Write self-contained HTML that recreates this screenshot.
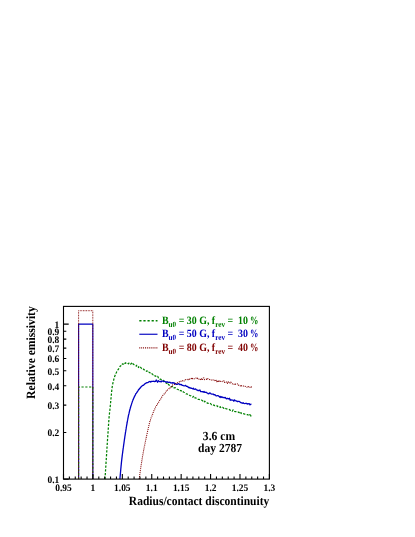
<!DOCTYPE html><html><head><meta charset="utf-8"><style>html,body{margin:0;padding:0;background:#fff}svg{display:block}</style></head><body>
<svg width="415" height="537" viewBox="0 0 415 537" font-family="'Liberation Serif', serif" font-weight="bold" text-rendering="geometricPrecision">
<defs><filter id="gaa" x="0" y="0" width="415" height="537" filterUnits="userSpaceOnUse" color-interpolation-filters="sRGB"><feOffset dx="0" dy="0"/></filter></defs>
<rect width="415" height="537" fill="#fff"/>
<g fill="none" stroke-linejoin="round">
<path d="M78.60 479.10 V324.10 H92.80 V479.10" stroke="#0000c0" stroke-width="1.15"/>
<path d="M78.60 479.10 V386.97 H92.80 V479.10" stroke="#008000" stroke-width="1.15" stroke-dasharray="2.2 1.6"/>
<path d="M78.60 479.10 V310.71 H92.80 V479.10" stroke="#800000" stroke-width="1" stroke-dasharray="0.8 0.8"/>
<path d="M105.00 479.10 L105.03 478.72 L105.06 478.20 L105.09 477.61 L105.13 476.97 L105.18 476.31 L105.22 475.55 L105.27 474.76 L105.32 473.99 L105.38 473.16 L105.43 472.32 L105.49 471.42 L105.54 470.58 L105.59 469.72 L105.65 468.83 L105.70 468.06 L105.75 467.26 L105.80 466.56 L105.85 465.77 L105.89 465.03 L105.94 464.33 L105.99 463.58 L106.04 462.87 L106.08 462.11 L106.13 461.40 L106.18 460.69 L106.22 459.95 L106.27 459.21 L106.32 458.46 L106.36 457.77 L106.41 457.03 L106.46 456.32 L106.51 455.57 L106.55 454.86 L106.60 454.10 L106.65 453.37 L106.69 452.64 L106.74 451.85 L106.79 451.12 L106.84 450.36 L106.88 449.67 L106.93 448.87 L106.98 448.14 L107.02 447.38 L107.07 446.61 L107.12 445.83 L107.16 445.16 L107.21 444.38 L107.26 443.68 L107.31 442.90 L107.35 442.20 L107.40 441.53 L107.45 440.79 L107.50 439.98 L107.55 439.26 L107.60 438.57 L107.65 437.89 L107.70 437.16 L107.74 436.47 L107.79 435.73 L107.84 435.07 L107.89 434.38 L107.94 433.63 L107.99 432.89 L108.04 432.19 L108.10 431.51 L108.15 430.70 L108.20 430.00 L108.25 429.26 L108.30 428.55 L108.35 427.81 L108.40 427.07 L108.45 426.36 L108.50 425.57 L108.55 424.83 L108.60 424.03 L108.65 423.25 L108.70 422.51 L108.76 421.66 L108.81 420.98 L108.87 420.24 L108.92 419.45 L108.98 418.76 L109.04 418.00 L109.10 417.21 L109.17 416.55 L109.23 415.81 L109.30 415.14 L109.36 414.49 L109.43 413.89 L109.50 413.19 L109.57 412.54 L109.64 411.90 L109.72 411.14 L109.79 410.60 L109.87 409.79 L109.95 409.13 L110.03 408.30 L110.12 407.50 L110.21 406.68 L110.30 405.88 L110.36 405.22 L110.42 404.52 L110.49 403.86 L110.55 403.13 L110.62 402.45 L110.69 401.68 L110.76 400.97 L110.83 400.11 L110.90 399.36 L110.98 398.54 L111.05 397.74 L111.13 396.99 L111.20 396.17 L111.28 395.38 L111.35 394.61 L111.43 393.83 L111.50 392.96 L111.58 392.28 L111.65 391.45 L111.73 390.81 L111.81 390.21 L111.88 389.46 L111.95 388.82 L112.03 388.26 L112.10 387.70 L112.25 386.65 L112.40 385.64 L112.55 384.90 L112.70 384.10 L112.85 383.29 L113.00 382.67 L113.15 382.08 L113.30 381.54 L113.45 380.91 L113.60 380.39 L113.75 379.73 L113.90 379.09 L114.11 378.35 L114.31 377.81 L114.49 377.18 L114.68 376.49 L114.89 375.82 L115.12 375.36 L115.38 374.96 L115.70 374.23 L115.99 373.27 L116.32 372.73 L116.67 371.78 L117.05 371.14 L117.44 370.69 L117.84 369.96 L118.24 369.48 L118.64 368.91 L119.03 368.22 L119.40 367.81 L119.92 366.67 L120.44 365.88 L120.97 365.75 L121.48 365.88 L122.00 364.76 L122.50 363.88 L123.00 363.98 L123.65 364.03 L124.25 362.88 L124.86 363.44 L125.52 362.80 L126.30 363.51 L126.95 363.31 L127.66 363.14 L128.42 363.87 L129.20 362.99 L129.99 363.00 L130.76 364.14 L131.50 363.26 L132.11 364.62 L132.70 364.01 L133.27 363.90 L133.84 364.56 L134.42 364.90 L135.02 365.23 L135.64 365.41 L136.30 366.19 L136.85 365.21 L137.41 366.11 L137.98 366.48 L138.56 367.50 L139.16 366.40 L139.77 367.28 L140.40 367.29 L141.04 367.78 L141.71 368.58 L142.40 368.85 L142.98 369.51 L143.56 369.09 L144.15 369.70 L144.74 370.33 L145.34 370.56 L145.96 370.46 L146.61 371.32 L147.27 370.97 L147.97 372.31 L148.71 372.15 L149.48 372.49 L150.30 373.09 L150.82 373.59 L151.37 374.22 L151.95 373.91 L152.56 374.18 L153.18 374.87 L153.82 374.74 L154.47 374.84 L155.14 376.10 L155.81 376.08 L156.48 376.99 L157.15 376.65 L157.82 376.41 L158.48 377.89 L159.13 378.24 L159.77 379.11 L160.38 379.12 L160.98 379.41 L161.55 379.85 L162.09 379.86 L162.60 380.33 L163.38 380.34 L164.09 381.44 L164.74 381.45 L165.35 382.00 L165.92 382.78 L166.47 383.25 L167.01 383.02 L167.55 384.39 L168.11 383.92 L168.70 384.79 L169.32 385.22 L170.00 385.38 L170.57 385.68 L171.13 386.56 L171.70 386.55 L172.27 386.69 L172.86 386.17 L173.45 386.85 L174.05 387.83 L174.67 387.78 L175.30 387.67 L175.96 388.10 L176.63 388.54 L177.33 389.24 L178.06 389.48 L178.81 390.07 L179.60 389.81 L180.16 390.73 L180.74 390.49 L181.35 390.87 L181.97 391.91 L182.61 391.65 L183.27 391.90 L183.94 392.22 L184.62 392.50 L185.31 393.54 L186.00 393.83 L186.70 393.95 L187.40 394.11 L188.10 394.77 L188.81 394.72 L189.50 395.26 L190.19 395.58 L190.88 395.80 L191.55 396.69 L192.21 397.05 L192.86 397.20 L193.49 396.32 L194.10 397.97 L194.83 397.89 L195.54 397.78 L196.24 398.25 L196.93 398.98 L197.61 399.28 L198.28 399.45 L198.94 399.46 L199.60 399.69 L200.25 400.25 L200.90 400.16 L201.54 400.12 L202.19 400.47 L202.83 400.90 L203.47 401.33 L204.12 402.30 L204.78 401.19 L205.43 402.13 L206.10 402.17 L206.77 402.56 L207.44 403.21 L208.11 403.42 L208.78 403.14 L209.46 403.23 L210.13 403.17 L210.80 403.89 L211.48 404.63 L212.15 404.29 L212.82 404.89 L213.50 405.13 L214.17 405.24 L214.84 405.72 L215.52 405.49 L216.19 405.44 L216.86 405.53 L217.53 406.54 L218.20 406.26 L218.91 406.50 L219.62 407.16 L220.32 406.74 L221.03 407.93 L221.73 407.71 L222.44 407.45 L223.14 407.60 L223.85 408.46 L224.55 407.78 L225.26 408.18 L225.96 408.62 L226.67 408.89 L227.37 409.01 L228.08 409.35 L228.78 409.26 L229.49 409.55 L230.20 410.29 L230.91 410.26 L231.63 410.05 L232.36 411.09 L233.09 409.89 L233.83 410.91 L234.56 411.36 L235.30 411.70 L236.03 411.59 L236.76 411.62 L237.49 412.21 L238.21 412.13 L238.92 412.60 L239.62 411.53 L240.31 412.97 L240.99 412.72 L241.65 413.58 L242.30 413.69 L243.09 413.90 L243.89 413.68 L244.70 414.22 L245.50 414.13 L246.31 414.56 L247.09 414.63 L247.86 414.54 L248.59 415.83 L249.28 415.52 L249.93 414.60 L250.52 415.90 L251.05 415.14 L251.52 415.71 L251.90 415.90" stroke="#008000" stroke-width="1.25" stroke-dasharray="2.3 1.5"/>
<path d="M119.90 479.10 L119.94 478.68 L119.98 478.27 L120.02 477.77 L120.07 477.24 L120.12 476.57 L120.18 475.98 L120.24 475.30 L120.30 474.59 L120.37 473.86 L120.43 473.12 L120.50 472.34 L120.58 471.52 L120.65 470.75 L120.73 469.88 L120.80 468.94 L120.88 468.25 L120.96 467.34 L121.04 466.47 L121.12 465.66 L121.21 464.82 L121.29 463.98 L121.37 463.13 L121.45 462.37 L121.54 461.52 L121.62 460.89 L121.70 460.04 L121.79 459.35 L121.87 458.60 L121.96 457.86 L122.06 457.08 L122.15 456.35 L122.25 455.38 L122.35 454.78 L122.44 454.01 L122.54 453.24 L122.65 452.58 L122.75 451.68 L122.85 450.98 L122.95 450.12 L123.05 449.50 L123.15 448.66 L123.26 447.93 L123.36 447.43 L123.45 446.63 L123.55 445.89 L123.65 445.22 L123.74 444.45 L123.84 443.82 L123.93 443.26 L124.01 442.48 L124.10 442.01 L124.22 441.02 L124.34 440.27 L124.46 439.37 L124.58 438.73 L124.70 437.89 L124.81 437.03 L124.92 436.20 L125.03 435.54 L125.14 434.88 L125.25 434.14 L125.35 433.56 L125.45 432.96 L125.54 432.27 L125.64 431.65 L125.73 431.14 L125.82 430.51 L125.90 430.04 L126.04 429.07 L126.16 428.44 L126.26 427.69 L126.34 427.08 L126.43 426.63 L126.52 426.04 L126.63 425.43 L126.75 424.80 L126.90 424.05 L127.01 423.23 L127.12 422.75 L127.24 422.07 L127.37 421.37 L127.50 420.71 L127.63 419.81 L127.77 419.20 L127.92 418.36 L128.07 417.60 L128.23 416.78 L128.39 415.99 L128.55 415.19 L128.72 414.49 L128.90 413.88 L129.06 413.12 L129.22 412.42 L129.39 411.70 L129.56 410.90 L129.74 410.30 L129.92 409.75 L130.11 408.69 L130.29 408.21 L130.49 407.53 L130.68 406.75 L130.88 406.12 L131.08 405.51 L131.28 404.95 L131.48 404.20 L131.69 403.62 L131.90 402.83 L132.16 402.17 L132.42 401.37 L132.68 400.69 L132.95 399.90 L133.22 399.40 L133.50 398.88 L133.78 397.98 L134.06 397.43 L134.36 396.88 L134.66 396.16 L134.96 395.74 L135.28 395.02 L135.60 394.16 L135.99 393.49 L136.40 393.19 L136.83 392.51 L137.26 391.97 L137.70 391.14 L138.15 390.51 L138.60 389.47 L139.05 389.63 L139.51 388.48 L139.96 388.47 L140.40 387.38 L140.94 386.93 L141.48 386.63 L142.03 385.95 L142.58 385.40 L143.12 385.47 L143.67 385.00 L144.22 384.52 L144.76 383.92 L145.30 383.41 L145.98 383.12 L146.64 382.74 L147.30 382.61 L147.96 382.63 L148.64 382.04 L149.35 381.58 L150.10 381.45 L150.71 382.06 L151.35 381.51 L152.00 381.44 L152.66 381.38 L153.34 381.45 L154.04 381.22 L154.75 381.60 L155.47 381.43 L156.20 379.96 L156.88 381.04 L157.58 382.30 L158.30 380.64 L159.03 381.25 L159.78 381.69 L160.52 381.32 L161.26 381.92 L161.99 380.95 L162.70 381.03 L163.40 381.52 L164.14 381.38 L164.83 381.32 L165.50 382.06 L166.16 382.02 L166.83 382.01 L167.52 381.95 L168.25 382.33 L169.04 382.31 L169.90 382.21 L170.48 382.80 L171.08 382.84 L171.68 382.83 L172.30 383.17 L172.93 382.56 L173.58 383.05 L174.25 383.02 L174.94 383.88 L175.65 383.69 L176.39 384.47 L177.15 384.42 L177.93 383.84 L178.75 383.76 L179.60 384.59 L180.19 384.45 L180.80 384.67 L181.44 384.51 L182.10 385.34 L182.77 385.38 L183.47 385.68 L184.17 385.86 L184.89 385.62 L185.61 385.34 L186.34 386.32 L187.07 386.42 L187.81 386.70 L188.54 387.50 L189.27 387.33 L190.00 388.18 L190.72 387.90 L191.42 388.32 L192.12 388.48 L192.80 388.80 L193.46 388.22 L194.10 389.32 L194.87 389.18 L195.63 388.99 L196.37 389.82 L197.09 389.94 L197.81 390.52 L198.52 390.52 L199.21 390.59 L199.91 390.03 L200.59 391.50 L201.28 391.63 L201.96 391.56 L202.64 391.65 L203.32 392.14 L204.01 391.54 L204.70 392.35 L205.40 392.30 L206.10 392.12 L206.81 392.85 L207.52 393.06 L208.23 393.79 L208.94 393.72 L209.65 392.96 L210.37 393.04 L211.08 393.97 L211.79 394.14 L212.51 394.07 L213.22 394.09 L213.93 394.78 L214.65 394.63 L215.36 395.02 L216.07 395.82 L216.78 395.79 L217.49 395.61 L218.20 395.67 L218.91 396.23 L219.62 397.16 L220.32 396.49 L221.03 397.54 L221.73 396.76 L222.44 397.17 L223.14 397.70 L223.85 397.32 L224.55 397.83 L225.26 397.46 L225.96 398.43 L226.67 398.80 L227.37 398.29 L228.08 398.80 L228.78 398.76 L229.49 398.27 L230.20 400.36 L230.91 399.74 L231.64 400.02 L232.37 400.06 L233.10 400.19 L233.84 401.24 L234.58 399.85 L235.32 400.65 L236.06 400.82 L236.80 401.11 L237.53 401.67 L238.25 401.33 L238.96 401.30 L239.66 401.57 L240.34 402.37 L241.01 402.74 L241.67 402.85 L242.30 403.32 L243.12 402.69 L243.96 403.47 L244.79 403.53 L245.62 403.37 L246.43 403.30 L247.22 404.09 L247.98 403.61 L248.70 403.90 L249.37 403.75 L249.98 404.93 L250.53 404.32 L251.01 404.23 L251.40 404.50" stroke="#0000c0" stroke-width="1.3"/>
<path d="M139.20 479.10 L139.25 478.79 L139.32 478.17 L139.39 477.77 L139.47 477.09 L139.55 476.45 L139.64 475.91 L139.74 475.06 L139.84 474.29 L139.95 473.55 L140.06 472.76 L140.17 471.86 L140.29 471.06 L140.41 470.11 L140.53 469.31 L140.64 468.47 L140.76 467.58 L140.88 466.76 L141.00 465.98 L141.11 465.39 L141.22 464.69 L141.33 463.97 L141.44 463.28 L141.56 462.44 L141.68 461.80 L141.80 461.09 L141.92 460.39 L142.04 459.52 L142.16 458.81 L142.29 457.93 L142.41 457.32 L142.54 456.44 L142.66 455.77 L142.79 455.27 L142.91 454.27 L143.03 453.82 L143.16 453.08 L143.28 452.34 L143.40 451.74 L143.54 450.97 L143.68 450.25 L143.83 449.37 L143.97 448.59 L144.12 447.84 L144.26 447.06 L144.40 446.42 L144.55 445.63 L144.69 445.10 L144.83 444.10 L144.98 443.48 L145.12 442.81 L145.26 442.01 L145.39 441.75 L145.53 440.65 L145.67 440.21 L145.80 439.55 L145.96 439.01 L146.11 437.89 L146.27 437.48 L146.42 436.58 L146.57 435.95 L146.72 435.21 L146.86 434.67 L147.01 433.82 L147.15 433.27 L147.30 432.66 L147.45 432.18 L147.60 431.05 L147.75 430.83 L147.90 430.11 L148.06 429.24 L148.22 428.62 L148.37 427.85 L148.52 427.39 L148.68 426.55 L148.83 425.82 L148.99 425.14 L149.15 424.46 L149.32 423.78 L149.49 423.00 L149.68 422.69 L149.88 421.44 L150.10 420.47 L150.31 420.30 L150.54 419.61 L150.78 418.98 L151.02 418.17 L151.28 417.46 L151.54 416.82 L151.81 416.21 L152.08 415.24 L152.35 414.54 L152.62 414.27 L152.90 413.33 L153.17 412.37 L153.44 412.37 L153.70 411.45 L154.03 410.43 L154.36 409.58 L154.69 409.21 L155.02 408.29 L155.35 407.59 L155.68 406.89 L156.01 406.46 L156.35 406.23 L156.70 405.24 L157.04 404.37 L157.40 404.27 L157.77 403.48 L158.14 403.03 L158.53 402.48 L158.92 401.48 L159.32 400.84 L159.72 400.24 L160.11 399.32 L160.50 399.22 L160.88 398.84 L161.25 397.96 L161.60 397.33 L162.05 396.69 L162.47 395.97 L162.86 395.45 L163.25 395.10 L163.64 394.49 L164.06 394.15 L164.50 393.26 L165.00 393.31 L165.40 392.75 L165.82 391.87 L166.26 390.97 L166.71 391.17 L167.18 390.99 L167.66 389.83 L168.14 389.37 L168.61 388.81 L169.09 388.73 L169.55 387.71 L170.00 387.96 L170.58 386.96 L171.14 386.94 L171.67 386.17 L172.21 385.66 L172.76 384.75 L173.35 384.69 L173.99 384.49 L174.70 384.49 L175.27 384.00 L175.87 383.28 L176.50 383.46 L177.16 383.41 L177.84 382.59 L178.54 382.15 L179.24 381.87 L179.94 382.14 L180.64 381.75 L181.33 380.80 L182.00 381.18 L182.67 380.55 L183.36 380.21 L184.06 380.98 L184.76 380.59 L185.46 379.67 L186.15 379.90 L186.83 379.96 L187.49 379.26 L188.12 379.38 L188.73 379.64 L189.30 378.33 L190.05 379.19 L190.64 379.23 L191.15 378.99 L191.67 377.98 L192.28 378.72 L193.06 378.08 L194.10 378.78 L194.62 378.81 L195.18 378.63 L195.79 378.16 L196.43 378.27 L197.10 379.02 L197.80 378.19 L198.52 378.93 L199.27 378.98 L200.02 378.64 L200.79 380.03 L201.57 378.93 L202.34 380.02 L203.12 378.01 L203.88 377.97 L204.64 379.64 L205.38 379.54 L206.10 379.14 L206.81 379.35 L207.52 378.51 L208.23 379.23 L208.94 379.12 L209.65 379.62 L210.37 380.26 L211.08 379.95 L211.79 380.21 L212.51 379.79 L213.22 380.03 L213.93 380.40 L214.65 380.32 L215.36 381.19 L216.07 380.24 L216.78 381.72 L217.49 380.41 L218.20 381.52 L218.91 380.72 L219.62 382.02 L220.32 381.38 L221.03 381.61 L221.73 381.88 L222.44 381.30 L223.14 381.20 L223.85 380.82 L224.55 382.53 L225.26 381.69 L225.96 381.86 L226.67 382.25 L227.37 383.36 L228.08 381.65 L228.78 382.75 L229.49 382.57 L230.20 383.16 L230.91 382.17 L231.63 383.01 L232.36 383.78 L233.09 384.30 L233.83 384.50 L234.56 383.49 L235.30 384.12 L236.03 384.23 L236.76 383.80 L237.49 383.96 L238.21 385.21 L238.92 385.14 L239.62 385.12 L240.31 385.95 L240.99 385.03 L241.65 385.92 L242.30 385.80 L243.15 385.94 L244.01 386.36 L244.88 386.36 L245.75 386.55 L246.61 386.68 L247.45 387.63 L248.25 386.63 L249.02 387.40 L249.74 387.30 L250.39 386.91 L250.98 387.56 L251.48 386.81 L251.90 387.30" stroke="#800000" stroke-width="1.1" stroke-dasharray="1 1"/>
</g>
<g stroke="#000" stroke-width="1.1" fill="none">
<rect x="63.5" y="306.4" width="205.9" height="172.7"/>
<path d="M63.50 479.10v-5.2M69.38 479.10v-2.6M75.27 479.10v-2.6M81.15 479.10v-2.6M87.03 479.10v-2.6M92.91 479.10v-5.2M98.80 479.10v-2.6M104.68 479.10v-2.6M110.56 479.10v-2.6M116.45 479.10v-2.6M122.33 479.10v-5.2M128.21 479.10v-2.6M134.09 479.10v-2.6M139.98 479.10v-2.6M145.86 479.10v-2.6M151.74 479.10v-5.2M157.63 479.10v-2.6M163.51 479.10v-2.6M169.39 479.10v-2.6M175.27 479.10v-2.6M181.16 479.10v-5.2M187.04 479.10v-2.6M192.92 479.10v-2.6M198.81 479.10v-2.6M204.69 479.10v-2.6M210.57 479.10v-5.2M216.45 479.10v-2.6M222.34 479.10v-2.6M228.22 479.10v-2.6M234.10 479.10v-2.6M239.99 479.10v-5.2M245.87 479.10v-2.6M251.75 479.10v-2.6M257.63 479.10v-2.6M263.52 479.10v-2.6M269.40 479.10v-5.2M63.50 479.10h5.2M63.50 432.44h2.8M63.50 405.15h2.8M63.50 385.78h2.8M63.50 370.76h2.8M63.50 358.49h2.8M63.50 348.11h2.8M63.50 339.12h2.8M63.50 331.19h2.8M63.50 324.10h5.2"/>
</g>
<g filter="url(#gaa)">
<text transform="translate(63.50 491.00) scale(0.945 1)" font-size="10.00" text-anchor="middle" fill="#000" xml:space="preserve">0.95</text>
<text transform="translate(92.91 491.00) scale(0.945 1)" font-size="10.00" text-anchor="middle" fill="#000" xml:space="preserve">1</text>
<text transform="translate(122.33 491.00) scale(0.945 1)" font-size="10.00" text-anchor="middle" fill="#000" xml:space="preserve">1.05</text>
<text transform="translate(151.74 491.00) scale(0.945 1)" font-size="10.00" text-anchor="middle" fill="#000" xml:space="preserve">1.1</text>
<text transform="translate(181.16 491.00) scale(0.945 1)" font-size="10.00" text-anchor="middle" fill="#000" xml:space="preserve">1.15</text>
<text transform="translate(210.57 491.00) scale(0.945 1)" font-size="10.00" text-anchor="middle" fill="#000" xml:space="preserve">1.2</text>
<text transform="translate(239.99 491.00) scale(0.945 1)" font-size="10.00" text-anchor="middle" fill="#000" xml:space="preserve">1.25</text>
<text transform="translate(269.40 491.00) scale(0.945 1)" font-size="10.00" text-anchor="middle" fill="#000" xml:space="preserve">1.3</text>
<text transform="translate(59.30 483.00) scale(0.945 1)" font-size="10.00" text-anchor="end" fill="#000" xml:space="preserve">0.1</text>
<text transform="translate(59.30 436.34) scale(0.945 1)" font-size="10.00" text-anchor="end" fill="#000" xml:space="preserve">0.2</text>
<text transform="translate(59.30 409.05) scale(0.945 1)" font-size="10.00" text-anchor="end" fill="#000" xml:space="preserve">0.3</text>
<text transform="translate(59.30 389.68) scale(0.945 1)" font-size="10.00" text-anchor="end" fill="#000" xml:space="preserve">0.4</text>
<text transform="translate(59.30 374.66) scale(0.945 1)" font-size="10.00" text-anchor="end" fill="#000" xml:space="preserve">0.5</text>
<text transform="translate(59.30 362.39) scale(0.945 1)" font-size="10.00" text-anchor="end" fill="#000" xml:space="preserve">0.6</text>
<text transform="translate(59.30 352.01) scale(0.945 1)" font-size="10.00" text-anchor="end" fill="#000" xml:space="preserve">0.7</text>
<text transform="translate(59.30 343.02) scale(0.945 1)" font-size="10.00" text-anchor="end" fill="#000" xml:space="preserve">0.8</text>
<text transform="translate(59.30 335.09) scale(0.945 1)" font-size="10.00" text-anchor="end" fill="#000" xml:space="preserve">0.9</text>
<text transform="translate(59.30 328.00) scale(0.945 1)" font-size="10.00" text-anchor="end" fill="#000" xml:space="preserve">1</text>
<text transform="translate(269.30 504.70) scale(0.911 1)" font-size="12.65" text-anchor="end" fill="#000" xml:space="preserve">Radius/contact discontinuity</text>
<text transform="translate(34.80 306.20) rotate(-90) scale(0.920 1)" font-size="12.65" text-anchor="end" fill="#000" xml:space="preserve">Relative emissivity</text>
<text transform="translate(219.00 440.00) scale(0.945 1)" font-size="12.30" text-anchor="middle" fill="#000" xml:space="preserve">3.6 cm</text>
<text transform="translate(220.00 452.00) scale(0.940 1)" font-size="12.30" text-anchor="middle" fill="#000" xml:space="preserve">day 2787</text>
<g fill="none">
<path d="M139.3 320.8H157.5" stroke="#008000" stroke-width="1.6" stroke-dasharray="2.2 1.9"/>
<path d="M139.3 334.25H157.5" stroke="#0000c0" stroke-width="1.15"/>
<path d="M139.3 347.9H157.5" stroke="#800000" stroke-width="1.2" stroke-dasharray="0.95 0.95"/>
</g>
<text transform="translate(162.00 323.90) scale(0.886 1)" font-size="11.20" text-anchor="start" fill="#008000" xml:space="preserve">B<tspan font-size="8.1" dy="3.1">u0</tspan><tspan dy="-3.1"> = 30 G, f</tspan><tspan font-size="8.1" dy="3.1">rev</tspan><tspan dy="-3.1"> =  10</tspan></text><text transform="translate(250.10 323.90) scale(0.750 1)" font-size="11.20" text-anchor="start" fill="#008000" xml:space="preserve">%</text>
<text transform="translate(162.00 337.20) scale(0.886 1)" font-size="11.20" text-anchor="start" fill="#0000c0" xml:space="preserve">B<tspan font-size="8.1" dy="3.1">u0</tspan><tspan dy="-3.1"> = 50 G, f</tspan><tspan font-size="8.1" dy="3.1">rev</tspan><tspan dy="-3.1"> =  30</tspan></text><text transform="translate(250.10 337.20) scale(0.750 1)" font-size="11.20" text-anchor="start" fill="#0000c0" xml:space="preserve">%</text>
<text transform="translate(162.00 350.70) scale(0.886 1)" font-size="11.20" text-anchor="start" fill="#800000" xml:space="preserve">B<tspan font-size="8.1" dy="3.1">u0</tspan><tspan dy="-3.1"> = 80 G, f</tspan><tspan font-size="8.1" dy="3.1">rev</tspan><tspan dy="-3.1"> =  40</tspan></text><text transform="translate(250.10 350.70) scale(0.750 1)" font-size="11.20" text-anchor="start" fill="#800000" xml:space="preserve">%</text>
</g>
</svg></body></html>
